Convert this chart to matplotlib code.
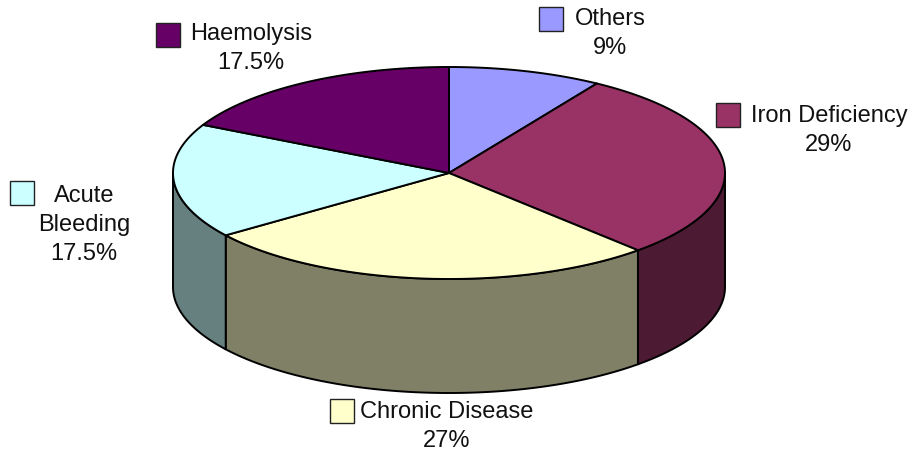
import numpy as np
import matplotlib
matplotlib.use("Agg")
import matplotlib.pyplot as plt
from matplotlib.patches import Polygon, Rectangle

plt.rcParams['font.family'] = ['Liberation Sans', 'DejaVu Sans']

# Slices in drawing order, clockwise from twelve o'clock
categories = ["Others", "Iron Deficiency", "Chronic Disease", "Acute Bleeding", "Haemolysis"]
shares = [9, 29, 27, 17.5, 17.5]
share_labels = ["9%", "29%", "27%", "17.5%", "17.5%"]
top_colors = ["#9999FF", "#993366", "#FFFFCC", "#CCFFFF", "#660066"]
side_colors = ["#4D4D80", "#4D1A33", "#808066", "#668080", "#330033"]

CX, CY, RX, RY, DEPTH = 449.0, 173.0, 276.0, 106.0, 114.0

fig = plt.figure(figsize=(9.13, 4.54), dpi=100, facecolor="white")
ax = fig.add_axes([0, 0, 1, 1])
ax.set_xlim(0, 913)
ax.set_ylim(454, 0)
ax.axis("off")


def rim(a0, a1, n=200):
    """Points on the top ellipse between two clockwise angles (degrees from top)."""
    t = np.radians(np.linspace(a0, a1, n))
    return np.column_stack([CX + RX * np.sin(t), CY - RY * np.cos(t)])


edges = np.concatenate([[0], np.cumsum(shares)]) * 3.6
EDGE = dict(edgecolor="black", linewidth=1.4, joinstyle="round")

# Outer wall: only the front half of the ellipse (90..270 degrees) is visible
for i in range(len(shares)):
    a0, a1 = max(edges[i], 90), min(edges[i + 1], 270)
    if a1 <= a0:
        continue
    upper = rim(a0, a1)
    lower = upper[::-1] + [0, DEPTH]
    ax.add_patch(Polygon(np.vstack([upper, lower]), closed=True,
                         facecolor=side_colors[i], **EDGE))

# Top face
for i in range(len(shares)):
    pts = np.vstack([[CX, CY], rim(edges[i], edges[i + 1])])
    ax.add_patch(Polygon(pts, closed=True, facecolor=top_colors[i], **EDGE))

# Legend keys with their labels: slice index, key corner, then text lines
label_spec = [
    (0, 539, 7, [(575, 19, "left", categories[0]), (610, 48, "center", share_labels[0])]),
    (1, 716, 103, [(751, 116, "left", categories[1]), (829, 145, "center", share_labels[1])]),
    (2, 330, 399, [(360, 412, "left", categories[2]), (447, 441, "center", share_labels[2])]),
    (3, 10, 181, [(84, 196, "center", "Acute"), (84, 225, "center", "Bleeding"),
                  (84, 254, "center", share_labels[3])]),
    (4, 156, 23, [(190, 34, "left", categories[4]), (251, 63, "center", share_labels[4])]),
]
for idx, x, y, lines in label_spec:
    ax.add_patch(Rectangle((x, y), 24, 24, facecolor=top_colors[idx],
                           edgecolor="#222222", linewidth=1.0))
    for tx, ty, ha, s in lines:
        ax.text(tx, ty, s, ha=ha, va="center", fontsize=17, color="#111111")

fig.savefig("out.png", dpi=100)
